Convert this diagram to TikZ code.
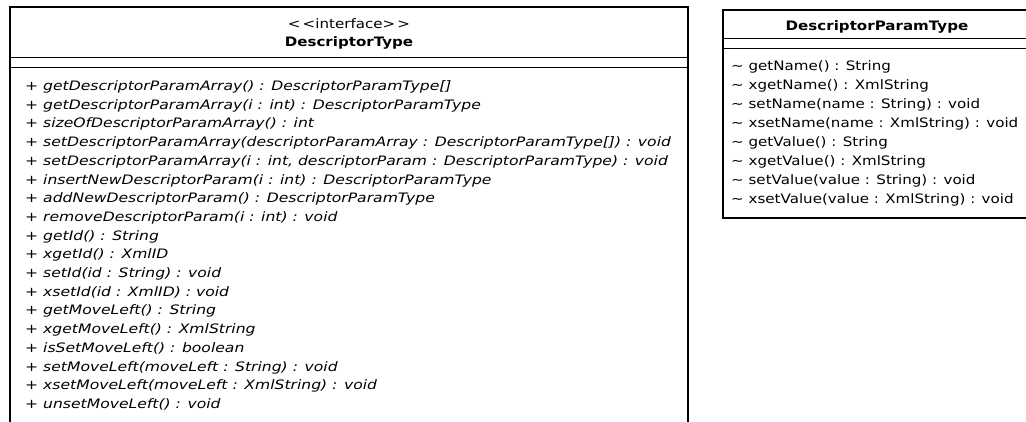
\documentclass[tikz,border=0pt]{standalone}
\usepackage{fontspec}
\setmainfont{DejaVu Sans}[FakeStretch=1.16]
\newfontfamily\opsfont{DejaVu Sans}[FakeStretch=1.2]
\usetikzlibrary{positioning}

\begin{document}
\begin{tikzpicture}[x=1pt, y=-1pt,
    every node/.append style={font=\fontsize{13}{18.7}\selectfont, inner sep=0pt},
    frame/.style={line width=2pt},
    divider/.style={line width=1pt},
    title/.style={anchor=base, font=\fontsize{13}{15}\selectfont\bfseries},
    ops/.style={anchor=base west, align=left},
]
\useasboundingbox (0,0) rectangle (1026,421);

% interface DescriptorType
\draw[frame] (10,430) -- (10,7) -- (688,7) -- (688,430);
\draw[divider] (10,57) -- (688,57);
\draw[divider] (10,67) -- (688,67);
\node[anchor=base] (stereo) at (349,28.5) {\textless\,\textless interface\textgreater\,\textgreater};
\node[title] (descType) at (349,46.7) {DescriptorType};
% base anchor = baseline of the last line
\node[ops, font=\fontsize{13}{18.7}\selectfont\opsfont\itshape] (descOps) at (25,408.4) {%
+ getDescriptorParamArray() : DescriptorParamType[]\\
+ getDescriptorParamArray(i : int) : DescriptorParamType\\
+ sizeOfDescriptorParamArray() : int\\
+ setDescriptorParamArray(descriptorParamArray : DescriptorParamType[]) : void\\
+ setDescriptorParamArray(i : int, descriptorParam : DescriptorParamType) : void\\
+ insertNewDescriptorParam(i : int) : DescriptorParamType\\
+ addNewDescriptorParam() : DescriptorParamType\\
+ removeDescriptorParam(i : int) : void\\
+ getId() : String\\
+ xgetId() : XmlID\\
+ setId(id : String) : void\\
+ xsetId(id : XmlID) : void\\
+ getMoveLeft() : String\\
+ xgetMoveLeft() : XmlString\\
+ isSetMoveLeft() : boolean\\
+ setMoveLeft(moveLeft : String) : void\\
+ xsetMoveLeft(moveLeft : XmlString) : void\\
+ unsetMoveLeft() : void};

% class DescriptorParamType
\draw[frame] (723,9.5) rectangle (1031,218);
\draw[divider] (723,38.5) -- (1031,38.5);
\draw[divider] (723,48.5) -- (1031,48.5);
\node[title] (paramType) at (877,30.7) {DescriptorParamType};
\node[ops, font=\fontsize{13}{19}\selectfont] (paramOps) at (731,203.5) {%
\textasciitilde\ getName() : String\\
\textasciitilde\ xgetName() : XmlString\\
\textasciitilde\ setName(name : String) : void\\
\textasciitilde\ xsetName(name : XmlString) : void\\
\textasciitilde\ getValue() : String\\
\textasciitilde\ xgetValue() : XmlString\\
\textasciitilde\ setValue(value : String) : void\\
\textasciitilde\ xsetValue(value : XmlString) : void};

\end{tikzpicture}
\end{document}
